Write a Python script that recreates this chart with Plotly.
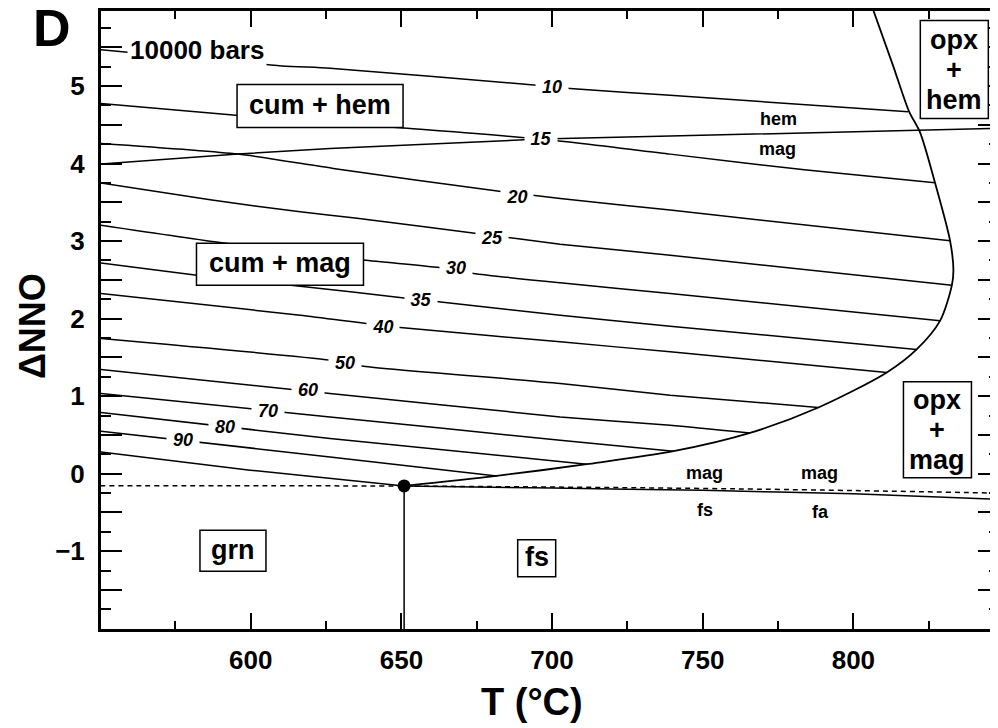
import plotly.graph_objects as go

F = "Liberation Sans, Arial, Helvetica, sans-serif"

# ---------------- data (T in °C, ΔNNO) ----------------
# isobars, labelled in kbar
iso_names = ["10", "15", "20", "25", "30", "35", "40", "50", "60", "70", "80", "90", "100"]
iso_T = {
    "10": [550, 610.3, 626.3, 694.9, 706.0, 739.2, 818.2],
    "15": [550, 594.1, 650.6, 696.4, 739.2, 784.5, 827.1],
    "20": [550, 595.8, 627.4, 683.7, 702.7, 739.2, 832.1],
    "25": [550, 587.1, 616.4, 634.6, 675.0, 702.7, 739.2, 832.7],
    "30": [550, 590.4, 637.4, 663.8, 673.9, 702.7, 739.2, 828.8],
    "35": [550, 582.1, 616.4, 652.3, 662.3, 702.7, 739.2, 821.0],
    "40": [550, 616.4, 649.6, 702.7, 739.2, 811.1],
    "50": [550, 626.3, 637.4, 702.7, 739.2, 788.4],
    "60": [550, 626.3, 702.7, 739.2, 765.7],
    "70": [550, 626.3, 702.7, 740.3],
    "80": [550, 626.3, 711.5],
    "90": [550, 626.3, 681.6],
    "100": [550, 599.8, 650.9],
}
iso_dNNO = {
    "10": [5.47, 5.26, 5.23, 5.01, 4.97, 4.88, 4.67],
    "15": [4.777, 4.626, 4.458, 4.316, 4.122, 3.916, 3.752],
    "20": [4.261, 4.123, 3.938, 3.636, 3.551, 3.40, 3.004],
    "25": [3.752, 3.529, 3.378, 3.297, 3.099, 2.961, 2.819, 2.432],
    "30": [3.206, 2.978, 2.755, 2.652, 2.583, 2.462, 2.325, 1.974],
    "35": [2.72, 2.561, 2.419, 2.261, 2.217, 2.045, 1.903, 1.603],
    "40": [2.325, 2.045, 1.886, 1.701, 1.572, 1.306],
    "50": [1.745, 1.465, 1.387, 1.164, 1.013, 0.854],
    "60": [1.345, 1.035, 0.733, 0.626, 0.526],
    "70": [1.035, 0.733, 0.432, 0.290],
    "80": [0.790, 0.454, 0.123],
    "90": [0.548, 0.217, -0.028],
    "100": [0.281, 0.045, -0.157],
}

# isobar labels
lab_text = ["10", "15", "20", "25", "30", "35", "40", "50", "60", "70", "80", "90"]
lab_T = [700.0, 696.4, 688.3, 680.0, 668.1, 656.4, 643.8, 631.3, 619.0, 605.8, 591.5, 577.6]
lab_dNNO = [4.987, 4.316, 3.572, 3.035, 2.648, 2.239, 1.894, 1.422, 1.077, 0.810, 0.604, 0.441]

# hematite / magnetite boundary
hm_T = [550, 595.8, 626.3, 696.4, 739.2, 848]
hm_dNNO = [3.994, 4.123, 4.196, 4.316, 4.355, 4.454]

# opx-in boundary
opx_T = [650.9, 681.6, 711.5, 740.3, 765.7, 788.4, 811.1, 821.0, 828.8, 832.7, 833.2,
         832.1, 827.1, 822.1, 818.5, 813.2, 806.6]
opx_dNNO = [-0.157, -0.028, 0.123, 0.290, 0.526, 0.854, 1.306, 1.603, 1.974, 2.432, 2.626,
            3.004, 3.752, 4.406, 4.67, 5.26, 5.98]

# mag / fs-fa boundary (solid), reference buffer (dashed), grn/fs vertical
mf_T = [650.9, 700, 750, 800, 848]
mf_dNNO = [-0.157, -0.185, -0.215, -0.26, -0.33]
dash_T = [550, 651, 760, 848]
dash_dNNO = [-0.155, -0.16, -0.195, -0.25]
vert_T = [650.9, 650.9]
vert_dNNO = [-0.157, -2.1]
inv_T = [650.9]
inv_dNNO = [-0.157]

# boxed field labels: text lines, T, ΔNNO, box width/height (px)
box_text = [["cum + hem"], ["cum + mag"], ["grn"], ["fs"], ["opx", "+", "hem"], ["opx", "+", "mag"]]
box_T = [623.0, 609.7, 594.1, 694.9, 833.5, 827.9]
box_dNNO = [4.742, 2.70, -0.994, -1.09, 5.213, 0.568]
box_w = [166, 167, 66, 38, 68, 68]
box_h = [43, 42, 41, 37, 98, 96]

# small unboxed labels
sm_text = ["hem", "mag", "mag", "mag", "fs", "fa"]
sm_T = [775.1, 774.8, 750.7, 788.7, 750.8, 789.0]
sm_dNNO = [4.577, 4.185, 0.013, 0.013, -0.47, -0.49]

# ---------------- figure ----------------
fig = go.Figure()
LC = "black"
for n in iso_names:
    fig.add_trace(go.Scatter(x=iso_T[n], y=iso_dNNO[n], mode="lines",
                             line=dict(color=LC, width=1.5, shape="spline", smoothing=0.6),
                             hoverinfo="skip", showlegend=False))
fig.add_trace(go.Scatter(x=hm_T, y=hm_dNNO, mode="lines",
                         line=dict(color=LC, width=1.5), hoverinfo="skip", showlegend=False))
fig.add_trace(go.Scatter(x=opx_T, y=opx_dNNO, mode="lines",
                         line=dict(color=LC, width=1.8, shape="spline", smoothing=0.8),
                         hoverinfo="skip", showlegend=False))
fig.add_trace(go.Scatter(x=mf_T, y=mf_dNNO, mode="lines",
                         line=dict(color=LC, width=1.5, shape="spline", smoothing=0.6),
                         hoverinfo="skip", showlegend=False))
fig.add_trace(go.Scatter(x=dash_T, y=dash_dNNO, mode="lines",
                         line=dict(color=LC, width=1.5, dash="5px,4px", shape="spline"),
                         hoverinfo="skip", showlegend=False))
fig.add_trace(go.Scatter(x=vert_T, y=vert_dNNO, mode="lines",
                         line=dict(color=LC, width=1.5), hoverinfo="skip", showlegend=False))
fig.add_trace(go.Scatter(x=inv_T, y=inv_dNNO, mode="markers",
                         marker=dict(color=LC, size=13), hoverinfo="skip", showlegend=False))
# invisible trace to activate the right-hand tick axis
fig.add_trace(go.Scatter(x=[700], y=[0], yaxis="y2", mode="markers",
                         marker=dict(opacity=0), hoverinfo="skip", showlegend=False))

ann = []
for t, x, y in zip(lab_text, lab_T, lab_dNNO):
    ann.append(dict(x=x, y=y, xref="x", yref="y", text=f"<b><i>{t}</i></b>", showarrow=False,
                    font=dict(family=F, size=18, color="black"), bgcolor="white",
                    width=32, borderpad=0, xanchor="center", yanchor="middle"))
ann.append(dict(x=582.2, y=5.465, xref="x", yref="y", text="<b>10000 bars</b>", showarrow=False,
                font=dict(family=F, size=26, color="black"), bgcolor="white", borderpad=2))
shapes = []
for lines, x, y, w, h in zip(box_text, box_T, box_dNNO, box_w, box_h):
    shapes.append(dict(type="rect", xref="x", yref="y", xsizemode="pixel", ysizemode="pixel",
                       xanchor=x, yanchor=y, x0=-w / 2, x1=w / 2, y0=-h / 2, y1=h / 2,
                       line=dict(color="black", width=1.5), fillcolor="white", layer="above"))
    nl = len(lines)
    for i, s in enumerate(lines):
        ann.append(dict(x=x, y=y, xref="x", yref="y", text=f"<b>{s}</b>", showarrow=False,
                        font=dict(family=F, size=27, color="black"),
                        yshift=(nl - 1) / 2 * 30 - i * 30 + (1 if nl == 1 else 0)))
for t, x, y in zip(sm_text, sm_T, sm_dNNO):
    ann.append(dict(x=x, y=y, xref="x", yref="y", text=f"<b>{t}</b>", showarrow=False,
                    font=dict(family=F, size=18, color="black")))

# page offset: the browser body adds an 8 px margin, so the figure is 990 x 720
W, H = 990, 720
ML, MT, MB = 93, 3, 99
PW, PH = W - ML, H - MT - MB


def px(xp, yp):
    """page pixel -> paper coords (for text outside the plot area)"""
    return (xp - 8 - ML) / PW, 1 - (yp - 8 - MT) / PH


dx, dy = px(52, 50)
ann.append(dict(x=dx, y=dy, xref="paper", yref="paper", text="<b>D</b>", showarrow=False,
                font=dict(family=F, size=52, color="black"), xanchor="center", yanchor="bottom",
                yshift=-9))
nx, ny = px(32, 326)
ann.append(dict(x=nx, y=ny, xref="paper", yref="paper", text="<b>ΔNNO</b>", showarrow=False,
                textangle=-90, font=dict(family=F, size=36, color="black"),
                xanchor="center", yanchor="middle"))
tx, ty = px(532, 702)
ann.append(dict(x=tx, y=ty, xref="paper", yref="paper", text="<b>T (°C)</b>", showarrow=False,
                font=dict(family=F, size=38, color="black"), xanchor="center", yanchor="middle"))

YR = [-2.003, 5.968]
ymaj = [-1.5, -1, -0.5, 0, 0.5, 1, 1.5, 2, 2.5, 3, 3.5, 4, 4.5, 5, 5.5]
ytxt = ["" if v != int(v) else ("−" + str(int(-v)) if v < 0 else str(int(v))) for v in ymaj]
ymin = [-1.75, -1.25, -0.75, -0.25, 0.25, 0.75, 1.25, 1.75, 2.25, 2.75, 3.25, 3.75, 4.25, 4.75, 5.25, 5.75]

fig.update_layout(
    width=W, height=H,
    margin=dict(l=ML, r=0, t=MT, b=MB),
    plot_bgcolor="white", paper_bgcolor="white",
    showlegend=False,
    annotations=ann, shapes=shapes,
    xaxis=dict(range=[550.3, 848], tickmode="array", tickvals=[600, 650, 700, 750, 800],
               ticks="inside", ticklen=16, tickwidth=1.5, tickcolor="black",
               showline=True, linewidth=3, linecolor="black", mirror="ticks",
               showgrid=False, zeroline=False, ticklabelstandoff=6,
               tickfont=dict(family=F, size=26, color="black", weight="bold"),
               minor=dict(tickmode="array", tickvals=[575, 625, 675, 725, 775, 825],
                          ticks="inside", ticklen=8, tickwidth=1.5, tickcolor="black",
                          showgrid=False)),
    yaxis=dict(range=YR, tickmode="array", tickvals=ymaj, ticktext=ytxt,
               ticks="inside", ticklen=21, tickwidth=1.5, tickcolor="black",
               showline=True, linewidth=3, linecolor="black", mirror=False,
               showgrid=False, zeroline=False, ticklabelstandoff=8,
               tickfont=dict(family=F, size=26, color="black", weight="bold"),
               minor=dict(tickmode="array", tickvals=ymin, ticks="inside", ticklen=10,
                          tickwidth=1.5, tickcolor="black", showgrid=False)),
    yaxis2=dict(range=YR, overlaying="y", side="right", anchor="x",
                tickmode="array", tickvals=ymaj, showticklabels=False,
                ticks="inside", ticklen=20, tickwidth=1.5, tickcolor="black",
                showline=False, showgrid=False, zeroline=False,
                minor=dict(tickmode="array", tickvals=ymin, ticks="inside", ticklen=9,
                           tickwidth=1.5, tickcolor="black", showgrid=False)),
)

fig.write_html("out.html")
